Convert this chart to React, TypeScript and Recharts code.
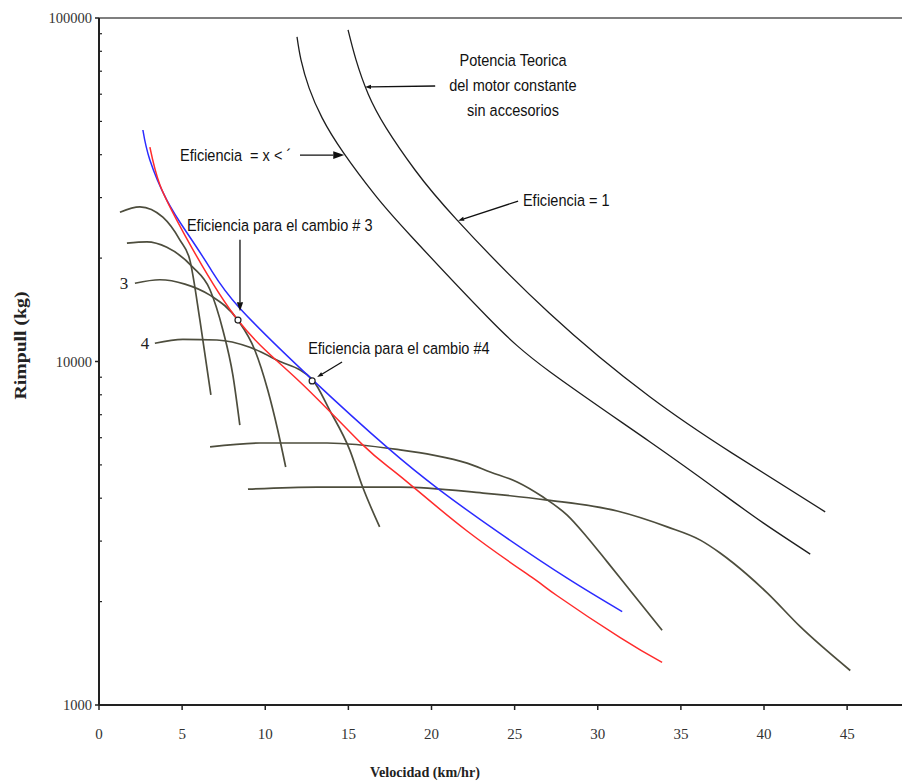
import { ComposedChart, Line, XAxis, YAxis, ReferenceLine, ReferenceDot } from 'recharts';

// axis ticks
const velocityTicks = [0, 5, 10, 15, 20, 25, 30, 35, 40, 45];
const rimpullTicks = [
  1000, 2000, 3000, 4000, 5000, 6000, 7000, 8000, 9000,
  10000, 20000, 30000, 40000, 50000, 60000, 70000, 80000, 90000, 100000,
];
const rimpullLabels = [1000, 10000, 100000];

// Eficiencia = 1 (potencia teorica)
const eff1Vel = [14.98, 15.46, 16.19, 17.27, 19.01, 21.54, 27.08, 33.15, 38.08, 43.68];
const eff1Rim = [92300, 75500, 60100, 47900, 36100, 25800, 13840, 7880, 5410, 3650];

// Eficiencia = x < 1
const effXVel = [11.91, 12.15, 12.64, 13.42, 14.68, 16.61, 18.83, 23.35, 27.14, 33.15, 37.36, 39.95, 42.78];
const effXRim = [88100, 75500, 62500, 51200, 40700, 30500, 23000, 13500, 9320, 5830, 4170, 3390, 2750];

// envolventes
const blueVel = [2.64, 3.06, 4.08, 5.29, 6.68, 8.47, 12.85, 17.3, 20.48, 24.08, 28.16, 31.47];
const blueRim = [47200, 38600, 29500, 23700, 18700, 14300, 8840, 5640, 4230, 3170, 2340, 1870];
const redVel = [3.06, 3.66, 5.17, 8.35, 12.09, 15.88, 18.11, 22.14, 26.11, 27.56, 31.35, 33.87];
const redRim = [42100, 32700, 23300, 13200, 8720, 5710, 4640, 3210, 2340, 2080, 1570, 1330];

// curvas de cada cambio
const gear1Vel = [1.26, 2.46, 3.84, 4.86, 5.47, 6.07, 6.73];
const gear1Rim = [27200, 28200, 26300, 22600, 19700, 13200, 7990];
const gear2Vel = [1.68, 2.88, 4.08, 5.65, 6.67, 7.45, 8.05, 8.47];
const gear2Rim = [22100, 22300, 21500, 18800, 16200, 12350, 9140, 6530];
const gear3Vel = [2.16, 3.66, 5.17, 6.67, 8.35, 9.37, 10.15, 10.75, 11.23];
const gear3Rim = [16900, 17300, 16800, 15600, 13200, 10800, 8260, 6320, 4930];
const gear4Vel = [3.36, 5.05, 7.09, 9.07, 10.69, 12.85, 13.87, 15.08, 15.86, 16.88];
const gear4Rim = [11300, 11600, 11550, 11000, 10100, 8840, 7220, 5530, 4310, 3300];
const gear5Vel = [6.68, 9.69, 13.72, 18.11, 20.1, 22.14, 23.53, 25.15, 26.71, 28.16, 29.36, 30.57, 31.77, 33.87];
const gear5Rim = [5640, 5790, 5790, 5530, 5340, 5060, 4770, 4460, 4030, 3570, 3080, 2610, 2210, 1650];
const gear6Vel = [8.96, 13.12, 18.11, 23.1, 26.96, 31.17, 34.18, 36.17, 37.36, 38.15, 40.19, 42.18, 45.19];
const gear6Rim = [4250, 4310, 4310, 4140, 3950, 3670, 3300, 3020, 2770, 2590, 2120, 1690, 1260];

// anotaciones
const noteTexts = [
  'Potencia Teorica', 'del motor constante', 'sin accesorios',
  'Eficiencia  = x < ´', 'Eficiencia = 1',
  'Eficiencia para el cambio # 3', 'Eficiencia para el cambio #4',
];
const noteVel = [24.9, 24.9, 24.9, 4.87, 25.5, 5.29, 12.58];
const noteRim = [75500, 63700, 54000, 39900, 29500, 25000, 10950];
const noteAnchor = ['middle', 'middle', 'middle', 'start', 'start', 'start', 'start'];

const gearLabels = ['3', '4'];
const gearLabelVel = [1.5, 2.77];
const gearLabelRim = [16900, 11300];

const arrowFromVel = [20.22, 12.09, 25.21, 8.48, 14.62];
const arrowFromRim = [63400, 39900, 29300, 22600, 9970];
const arrowToVel = [16.0, 14.75, 21.6, 8.48, 13.12];
const arrowToRim = [63000, 39900, 25700, 14000, 9010];
const arrowHead = [6, 11, 6, 9, 6];

const pointVel = [8.36, 12.82];
const pointRim = [13200, 8780];

const toPoints = (vel: number[], rim: number[]) => vel.map((v, i) => ({ v, r: rim[i] }));

const series = [
  { key: 'eff1', data: toPoints(eff1Vel, eff1Rim), color: '#1e1e1e', width: 1.3, curve: 'natural' },
  { key: 'effX', data: toPoints(effXVel, effXRim), color: '#1e1e1e', width: 1.3, curve: 'natural' },
  { key: 'g1', data: toPoints(gear1Vel, gear1Rim), color: '#4d4d3d', width: 1.7, curve: 'monotone' },
  { key: 'g2', data: toPoints(gear2Vel, gear2Rim), color: '#4d4d3d', width: 1.7, curve: 'monotone' },
  { key: 'g3', data: toPoints(gear3Vel, gear3Rim), color: '#4d4d3d', width: 1.7, curve: 'monotone' },
  { key: 'g4', data: toPoints(gear4Vel, gear4Rim), color: '#4d4d3d', width: 1.7, curve: 'monotone' },
  { key: 'g5', data: toPoints(gear5Vel, gear5Rim), color: '#4d4d3d', width: 1.7, curve: 'monotone' },
  { key: 'g6', data: toPoints(gear6Vel, gear6Rim), color: '#4d4d3d', width: 1.7, curve: 'monotone' },
  { key: 'blue', data: toPoints(blueVel, blueRim), color: '#2b2bff', width: 1.5, curve: 'natural' },
  { key: 'red', data: toPoints(redVel, redRim), color: '#ff2b2b', width: 1.5, curve: 'natural' },
];

const SERIF = '"Liberation Serif", "Times New Roman", serif';
const SANS = '"Liberation Sans", Arial, sans-serif';

function RimpullTick({ x, y, payload }: any) {
  const major = rimpullLabels.includes(payload.value);
  if (!major) {
    return <line x1={x} x2={x + 3} y1={y} y2={y} stroke="#222" strokeWidth={1.2} />;
  }
  return (
    <g>
      <line x1={x - 4} x2={x} y1={y} y2={y} stroke="#222" strokeWidth={1.5} />
      <text x={x - 7} y={y} dy="0.35em" textAnchor="end" fontFamily={SERIF} fontSize={14.5} fill="#333">
        {payload.value}
      </text>
    </g>
  );
}

const noteShape = (text: string, anchor: string) => (p: any) => (
  <text
    x={p.cx}
    y={p.cy}
    dy="0.35em"
    textAnchor={anchor}
    fontFamily={SANS}
    fontSize={16.5}
    fill="#111"
    style={{ whiteSpace: 'pre' }}
    transform={`translate(${p.cx} 0) scale(0.88 1) translate(${-p.cx} 0)`}
  >
    {text}
  </text>
);

const gearLabelShape = (text: string) => (p: any) => (
  <text x={p.cx} y={p.cy} dy="0.35em" textAnchor="middle" fontFamily={SERIF} fontSize={17} fill="#222">
    {text}
  </text>
);

const arrowShape = (head: number) => (p: any) => {
  const { x1, y1, x2, y2 } = p;
  const ang = Math.atan2(y2 - y1, x2 - x1);
  const bx = x2 - head * Math.cos(ang);
  const by = y2 - head * Math.sin(ang);
  const w = head * 0.35;
  const px = -Math.sin(ang) * w;
  const py = Math.cos(ang) * w;
  return (
    <g>
      <line x1={x1} y1={y1} x2={bx} y2={by} stroke="#111" strokeWidth={1.3} />
      <polygon points={`${x2},${y2} ${bx + px},${by + py} ${bx - px},${by - py}`} fill="#111" />
    </g>
  );
};

const yTitle = (p: any) => {
  const vb = p.viewBox || { x: 0, y: 18, width: 99, height: 687 };
  const cx = vb.x + 20;
  const cy = vb.y + vb.height / 2 - 16;
  return (
    <text x={cx} y={cy} dy="0.35em" textAnchor="middle" transform={`rotate(-90 ${cx} ${cy})`}
      fontFamily={SERIF} fontWeight="bold" fontSize={16} fill="#222"
      textLength={108} lengthAdjust="spacingAndGlyphs">
      Rimpull (kg)
    </text>
  );
};

const xTitle = (p: any) => {
  const vb = p.viewBox || { x: 99, y: 705, width: 803, height: 78 };
  const cx = vb.x + 326;
  const cy = vb.y + 67;
  return (
    <text x={cx} y={cy} dy="0.35em" textAnchor="middle" fontFamily={SERIF} fontWeight="bold" fontSize={15} fill="#222"
      textLength={110} lengthAdjust="spacingAndGlyphs">
      Velocidad (km/hr)
    </text>
  );
};

export default function App() {
  return (
    <div style={{ position: 'absolute', left: 0, top: 0, background: '#fff' }}>
      <ComposedChart width={902} height={783} margin={{ top: 18, right: 0, bottom: 0, left: 0 }}>
        <XAxis
          type="number"
          dataKey="v"
          domain={[0, 48.3]}
          ticks={velocityTicks}
          interval={0}
          allowDataOverflow
          height={78}
          tickSize={5}
          tickMargin={18}
          axisLine={{ stroke: '#222', strokeWidth: 2 }}
          tickLine={{ stroke: '#222', strokeWidth: 1.5 }}
          tick={{ fontFamily: SERIF, fontSize: 15, fill: '#333' }}
          label={xTitle}
        />
        <YAxis
          type="number"
          dataKey="r"
          scale="log"
          domain={[1000, 100000]}
          ticks={rimpullTicks}
          interval={0}
          allowDataOverflow
          width={99}
          tickSize={0}
          tickMargin={0}
          tickLine={false}
          axisLine={{ stroke: '#222', strokeWidth: 2 }}
          tick={<RimpullTick />}
          label={yTitle}
        />
        <ReferenceLine y={100000} stroke="#555" strokeWidth={1.5} />
        {series.map((s) => (
          <Line
            key={s.key}
            data={s.data}
            dataKey="r"
            type={s.curve as any}
            stroke={s.color}
            strokeWidth={s.width}
            dot={false}
            activeDot={false}
            isAnimationActive={false}
          />
        ))}
        {arrowFromVel.map((v, i) => (
          <ReferenceLine
            key={`arrow-${i}`}
            segment={[{ x: v, y: arrowFromRim[i] }, { x: arrowToVel[i], y: arrowToRim[i] }]}
            shape={arrowShape(arrowHead[i])}
          />
        ))}
        {pointVel.map((v, i) => (
          <ReferenceDot key={`pt-${i}`} x={v} y={pointRim[i]} r={3} fill="#fff" stroke="#222" strokeWidth={1.2} />
        ))}
        {noteTexts.map((t, i) => (
          <ReferenceDot key={`note-${i}`} x={noteVel[i]} y={noteRim[i]} r={1} shape={noteShape(t, noteAnchor[i])} />
        ))}
        {gearLabels.map((t, i) => (
          <ReferenceDot key={`gl-${i}`} x={gearLabelVel[i]} y={gearLabelRim[i]} r={1} shape={gearLabelShape(t)} />
        ))}
      </ComposedChart>
    </div>
  );
}
